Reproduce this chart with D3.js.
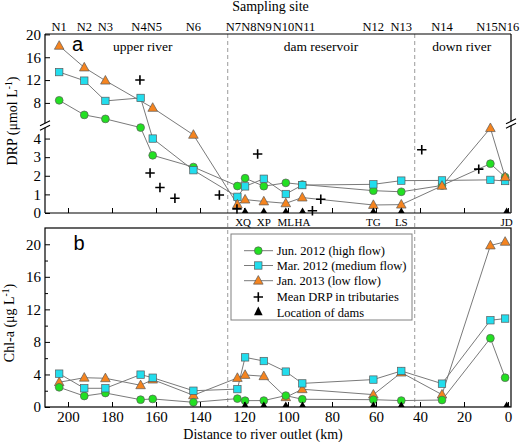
<!DOCTYPE html>
<html><head><meta charset="utf-8">
<script src="https://cdn.jsdelivr.net/npm/d3@7"></script>
<style>
body{margin:0;background:#fff}
svg{display:block}
text{fill:#000}
</style>
</head><body>
<svg id="c" width="520" height="442" font-family="Liberation Serif, Times New Roman, serif"></svg>
<script>
// ---------- data ----------
const sites = ["N1","N2","N3","N4","N5","N6","N7","N8","N9","N10","N11","N12","N13","N14","N15","N16"];
const siteDist = [204, 192.6, 183, 167, 161.5, 143, 123, 119.5, 111, 101, 93.5, 61.2, 48.5, 30, 8, 1.3];

const drpJun = [8.45, 5.9, 5.2, 4.59, 3.1, 2.47, 1.45, 1.87, 1.44, 1.62, 1.53, 1.2, 1.14, 1.48, 2.65, 1.93];
const drpMar = [13.4, 11.9, 8.35, 8.87, 4.0, 2.3, 0.87, 1.43, 1.84, 1.02, 1.5, 1.54, 1.74, 1.75, 1.78, 1.72];
const drpJan = [18.0, 14.2, 11.9, null, 7.13, 4.2, 0.46, 0.72, 0.62, 0.52, 0.83, 0.43, 0.45, 1.46, 4.56, 1.93];

const chlJun = [2.42, 1.35, 1.72, 0.9, 0.99, 0.58, 1.03, 0.78, 0.79, 1.4, 0.95, 0.9, 0.79, 0.86, 8.45, 3.6];
const chlMar = [4.1, 2.3, 2.3, 3.98, 3.6, 2.0, 2.2, 6.1, 5.65, 4.35, 2.9, 3.37, 4.43, 2.87, 10.66, 10.87];
const chlJan = [3.04, 3.6, 3.53, 2.67, 3.37, 1.44, 3.57, 3.94, 3.78, 1.2, 2.18, 1.52, 4.23, 1.52, 19.85, 20.3];

const tribDist = [167.3, 162.7, 158.2, 151.4, 131.2, 123.2, 113.8, 88.9, 85.1, 39.2, 13.3];
const tribDRP  = [12.0, 2.15, 1.37, 0.79, 0.97, 0.22, 3.17, 0.12, 0.74, 3.4, 2.36];

const damNames = ["XQ","XP","ML","HA","TG","LS","JD"];
const damDist  = [119.5, 111, 101, 93.4, 61.2, 48.5, 0.6];

const zoneBounds = [127.4, 42.4];
const zoneNames = ["upper river","dam reservoir","down river"];
const zoneLabelDist = [166, 85, 21];

const xTicks = [200,180,160,140,120,100,80,60,40,20,0];
const drpTicksLow = [0,1,2,3,4];
const drpTicksHigh = [8,12,16,20];
const chlTicks = [0,4,8,12,16,20];
const chlMinor = [2,6,10,14,18];

const seriesNames = ["Jun. 2012 (high flow)","Mar. 2012 (medium flow)","Jan. 2013 (low flow)"];
const otherLegend = ["Mean DRP in tributaries","Location of dams"];

// ---------- styles ----------
const SERIF = '"Liberation Serif","Times New Roman",Times,serif';
const SANS = '"Liberation Sans",Arial,sans-serif';
const GREEN = "#22e022", CYAN = "#22dded", ORANGE = "#f5841f";
const LINE = "#7a7a7a", MSTROKE = "#5a5a5a";

const svg = d3.select("#c");
const L = 45, R = 511, aTop = 34, aBot = 213, bTop = 228, bBot = 407;

const x = d3.scaleLinear().domain([200, 0]).range([68, 508]);
const brkY = 124.6, brkV = 4.75;
const yLo = d3.scaleLinear().domain([0, brkV]).range([aBot, brkY]);
const yHi = d3.scaleLinear().domain([4.2, 20]).range([brkY, 34.4]);
const yA = v => v <= brkV ? yLo(v) : yHi(v);
const yB = d3.scaleLinear().domain([0, 22]).range([bBot, bTop]);

zoneBounds.forEach(d => {
  svg.append("line").attr("x1", x(d)).attr("x2", x(d)).attr("y1", aTop).attr("y2", bBot)
    .attr("stroke", "#9a9a9a").attr("stroke-width", 1).attr("stroke-dasharray", "4,3");
});

function marker(g, shape, cx, cy, fill) {
  if (shape === "circle") {
    g.append("circle").attr("cx", cx).attr("cy", cy).attr("r", 3.9)
      .attr("fill", fill).attr("stroke", MSTROKE).attr("stroke-width", 0.7);
  } else if (shape === "square") {
    const s = 7.4;
    g.append("rect").attr("x", cx - s / 2).attr("y", cy - s / 2).attr("width", s).attr("height", s)
      .attr("fill", fill).attr("stroke", MSTROKE).attr("stroke-width", 0.7);
  } else if (shape === "tri") {
    const w = 4.8, h = 8.6;
    g.append("path").attr("d", `M${cx},${cy - h * 0.6}L${cx + w},${cy + h * 0.4}L${cx - w},${cy + h * 0.4}Z`)
      .attr("fill", fill).attr("stroke", MSTROKE).attr("stroke-width", 0.7);
  } else if (shape === "cross") {
    const s = 4.7;
    g.append("path").attr("d", `M${cx - s},${cy}H${cx + s}M${cx},${cy - s}V${cy + s}`)
      .attr("stroke", "#000").attr("stroke-width", 1.6).attr("fill", "none");
  } else if (shape === "dam") {
    g.append("path").attr("d", `M${cx},${cy - 5.5}L${cx + 3.3},${cy}L${cx - 3.3},${cy}Z`).attr("fill", "#000");
  }
}

function drawSeries(g, vals, yf, shape, fill, drawLine) {
  const pts = siteDist.map((d, i) => ({ d, v: vals[i] })).filter(p => p.v != null);
  if (drawLine) {
    g.append("path").attr("d", d3.line().x(p => x(p.d)).y(p => yf(p.v))(pts))
      .attr("fill", "none").attr("stroke", LINE).attr("stroke-width", 1);
  } else {
    pts.forEach(p => marker(g, shape, x(p.d), yf(p.v), fill));
  }
}

// ---------- panel a ----------
const ga = svg.append("g");
[drpJun, drpMar, drpJan].forEach(v => drawSeries(ga, v, yA, null, null, true));
drawSeries(ga, drpJun, yA, "circle", GREEN, false);
drawSeries(ga, drpMar, yA, "square", CYAN, false);
drawSeries(ga, drpJan, yA, "tri", ORANGE, false);
tribDist.forEach((d, i) => marker(ga, "cross", x(d), yA(tribDRP[i])));
damDist.forEach(d => marker(ga, "dam", x(d), aBot));

const fmt = d3.format("d");
const axA1 = svg.append("g").attr("transform", `translate(${L},0)`)
  .call(d3.axisLeft(yLo).tickValues(drpTicksLow).tickFormat(fmt).tickSize(-5).tickPadding(4));
const axA2 = svg.append("g").attr("transform", `translate(${L},0)`)
  .call(d3.axisLeft(yHi).tickValues(drpTicksHigh).tickFormat(fmt).tickSize(-5).tickPadding(4));
const axAx = svg.append("g").attr("transform", `translate(0,${aBot})`)
  .call(d3.axisBottom(x).tickValues(xTicks).tickSize(-5).tickFormat(""));
[axA1, axA2, axAx].forEach(a => { a.select(".domain").remove(); });

function vline(xx, y1, y2) {
  svg.append("line").attr("x1", xx).attr("x2", xx).attr("y1", y1).attr("y2", y2)
    .attr("stroke", "#000").attr("stroke-width", 1.2);
}
function hline(y, x1, x2) {
  svg.append("line").attr("x1", x1).attr("x2", x2).attr("y1", y).attr("y2", y)
    .attr("stroke", "#000").attr("stroke-width", 1.2);
}
hline(aTop, L, R); hline(aBot, L, R);
function brokenV(xx, yb) {
  vline(xx, aTop, yb - 2.2); vline(xx, yb + 2.2, aBot);
  [-2.2, 2.2].forEach(o => {
    svg.append("line").attr("x1", xx - 5).attr("x2", xx + 5).attr("y1", yb + o + 2.5).attr("y2", yb + o - 2.5)
      .attr("stroke", "#000").attr("stroke-width", 1.1);
  });
}
brokenV(L, 125.5);
brokenV(R, 123.5);

// ---------- panel b ----------
const gb = svg.append("g");
[chlJan, chlJun, chlMar].forEach(v => drawSeries(gb, v, yB, null, null, true));
drawSeries(gb, chlJan, yB, "tri", ORANGE, false);
drawSeries(gb, chlJun, yB, "circle", GREEN, false);
drawSeries(gb, chlMar, yB, "square", CYAN, false);
damDist.forEach(d => marker(gb, "dam", x(d), bBot));

const axB = svg.append("g").attr("transform", `translate(${L},0)`)
  .call(d3.axisLeft(yB).tickValues(chlTicks).tickFormat(fmt).tickSize(-5).tickPadding(4));
const axBm = svg.append("g").attr("transform", `translate(${L},0)`)
  .call(d3.axisLeft(yB).tickValues(chlMinor).tickSize(-3).tickFormat(""));
const axBx = svg.append("g").attr("transform", `translate(0,${bBot})`)
  .call(d3.axisBottom(x).tickValues(xTicks).tickFormat(fmt).tickSize(-5).tickPadding(4.5));
[axB, axBm, axBx].forEach(a => a.select(".domain").remove());
svg.append("rect").attr("x", L).attr("y", bTop).attr("width", R - L).attr("height", bBot - bTop)
  .attr("fill", "none").attr("stroke", "#000").attr("stroke-width", 1.2);

svg.selectAll(".tick line").attr("stroke", "#000").attr("stroke-width", 1);
svg.selectAll(".tick text").style("font-size", "15px");
svg.selectAll("g").attr("font-family", null);

// ---------- texts ----------
svg.append("text").attr("x", 270.5).attr("y", 10.5).attr("text-anchor", "middle").style("font-size", "14px").text("Sampling site");

const siteFont = 12.5;
const tmp = svg.append("g");
const widths = sites.map(s => {
  const t = tmp.append("text").style("font-family", SERIF).style("font-size", siteFont + "px").text(s);
  const w = t.node().getComputedTextLength(); t.remove(); return w;
});
tmp.remove();
let clusters = sites.map((s, i) => ({ idx: [i] }));
function clusterSpan(cl) {
  const tw = d3.sum(cl.idx, i => widths[i]);
  const c = d3.mean(cl.idx, i => x(siteDist[i]));
  return { start: c - tw / 2, end: c + tw / 2 };
}
let merged = true;
while (merged) {
  merged = false;
  for (let k = 0; k < clusters.length - 1; k++) {
    const a = clusterSpan(clusters[k]), b = clusterSpan(clusters[k + 1]);
    if (a.end > b.start - 1) {
      clusters[k] = { idx: clusters[k].idx.concat(clusters[k + 1].idx) };
      clusters.splice(k + 1, 1); merged = true; break;
    }
  }
}
clusters.forEach(cl => {
  let pos = clusterSpan(cl).start;
  cl.idx.forEach(i => {
    svg.append("text").attr("x", pos).attr("y", 30.5).style("font-size", siteFont + "px").text(sites[i]);
    pos += widths[i];
  });
});

damNames.forEach((n, i) => {
  svg.append("text").attr("x", x(damDist[i]) - (i === 0 ? 2 : 0)).attr("y", 225.5).attr("text-anchor", "middle")
    .style("font-size", "11px").text(n);
});

zoneNames.forEach((n, i) => {
  svg.append("text").attr("x", x(zoneLabelDist[i])).attr("y", 51).attr("text-anchor", "middle")
    .style("font-size", "13.5px").text(n);
});

const t1 = svg.append("text").attr("transform", "translate(17,121) rotate(-90)").attr("text-anchor", "middle").style("font-size", "14px");
t1.append("tspan").text("DRP (μmol L");
t1.append("tspan").attr("dy", -5).style("font-size", "9.5px").text("-1");
t1.append("tspan").attr("dy", 5).text(")");
const t2 = svg.append("text").attr("transform", "translate(14,323) rotate(-90)").attr("text-anchor", "middle").style("font-size", "14px");
t2.append("tspan").text("Chl-a (μg L");
t2.append("tspan").attr("dy", -5).style("font-size", "9.5px").text("-1");
t2.append("tspan").attr("dy", 5).text(")");
svg.append("text").attr("x", 263).attr("y", 439).attr("text-anchor", "middle").style("font-size", "14px")
  .text("Distance to river outlet (km)");

// ---------- legend ----------
const lg = svg.append("g");
lg.append("rect").attr("x", 231).attr("y", 234).attr("width", 181).attr("height", 86)
  .attr("fill", "#fff").attr("stroke", "#808080").attr("stroke-width", 1);
const legY = [250.7, 265.5, 280.7, 297, 312.5];
const legShapes = [["circle", GREEN], ["square", CYAN], ["tri", ORANGE]];
seriesNames.forEach((n, i) => {
  lg.append("line").attr("x1", 244).attr("x2", 273).attr("y1", legY[i]).attr("y2", legY[i])
    .attr("stroke", LINE).attr("stroke-width", 1);
  marker(lg, legShapes[i][0], 258.3, legY[i], legShapes[i][1]);
  lg.append("text").attr("x", 276.7).attr("y", legY[i] + 4.3).style("font-size", "12.5px").text(n);
});
marker(lg, "cross", 258.3, legY[3]);
lg.append("path").attr("d", `M258.3,${legY[4] - 6}L262.6,${legY[4] + 2.8}L254,${legY[4] + 2.8}Z`).attr("fill", "#000");
otherLegend.forEach((n, i) => {
  lg.append("text").attr("x", 276.7).attr("y", legY[3 + i] + 4.3).style("font-size", "12.5px").text(n);
});

svg.selectAll("text").style("font-family", SERIF);
svg.append("text").attr("x", 77.5).attr("y", 50.5).attr("text-anchor", "middle")
  .style("font-family", SANS).style("font-size", "20px").text("a");
svg.append("text").attr("x", 79).attr("y", 250).attr("text-anchor", "middle")
  .style("font-family", SANS).style("font-size", "20px").text("b");
</script>
</body></html>
